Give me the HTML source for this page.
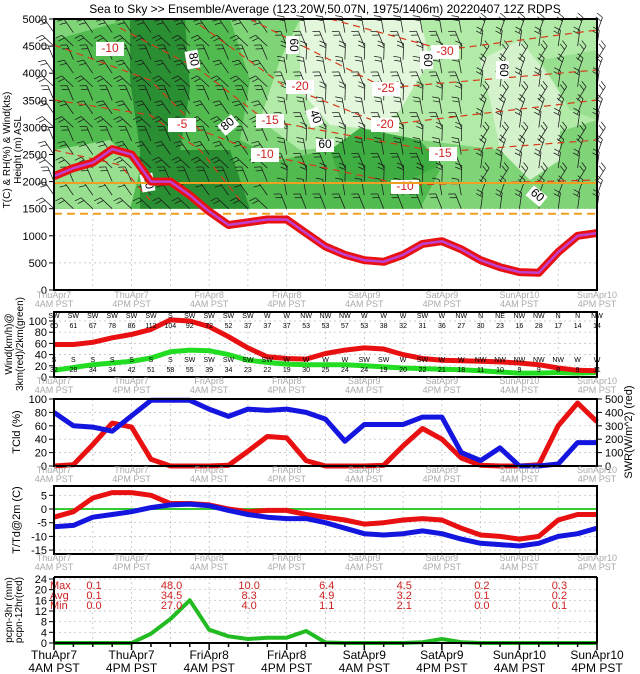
<!DOCTYPE html>
<html><head><meta charset="utf-8">
<style>
html,body{margin:0;padding:0;background:#fff;}
svg{display:block;font-family:"Liberation Sans",sans-serif;}
</style></head>
<body>
<svg id="chart" width="640" height="674" viewBox="0 0 640 674" xmlns="http://www.w3.org/2000/svg">
<text x="325" y="13" font-size="12" text-anchor="middle" fill="#000">Sea to Sky &gt;&gt; Ensemble/Average (123.20W,50.07N, 1975/1406m)  20220407  12Z  RDPS</text>
</svg>
<script>
// ---------- DATA ----------
const dateLabels = ["ThuApr7","ThuApr7","FriApr8","FriApr8","SatApr9","SatApr9","SunApr10","SunApr10"];
const timeLabels = ["4AM PST","4PM PST","4AM PST","4PM PST","4AM PST","4PM PST","4AM PST","4PM PST"];
const freezingLevel = [2100,2250,2350,2600,2500,2000,2000,1750,1450,1200,1250,1300,1300,1050,800,650,550,520,650,850,900,750,550,420,330,320,700,1000,1050];
const wind3kmLine = [58,58,62,70,76,85,102,100,90,72,52,36,33,32,42,48,52,50,40,33,30,29,28,27,25,22,16,12,11];
const wind2kmLine = [12,17,22,25,28,34,45,48,47,40,30,26,23,22,22,22,20,18,16,15,14,13,11,9,7,7,8,7,8];
const wind3kmSpeed = [60,61,67,78,86,112,104,92,72,52,37,37,37,53,53,57,53,38,32,31,36,27,30,23,16,28,17,14,14];
const wind3kmDir = ["SW","SW","SW","SW","SW","SW","S","SW","SW","SW","SW","W","W","NW","NW","NW","W","W","W","SW","W","NW","N","NE","NW","NW","N","N","NW"];
const wind2kmSpeed = [32,28,34,34,42,51,58,55,39,34,23,22,19,30,25,24,24,19,20,22,21,18,11,10,9,9,8,9,11];
const wind2kmDir = ["S","S","S","S","S","S","S","SW","SW","SW","SW","SW","W","W","W","W","SW","SW","W","SW","W","W","NW","NW","NW","NW","NW","W","W"];
const cloudCover = [80,60,58,52,75,98,98,98,85,74,85,83,85,80,70,37,62,62,62,73,73,20,8,27,0,0,3,35,35];
const solarRad = [0,10,160,320,290,50,0,0,0,5,110,220,210,40,0,0,0,5,150,280,200,60,5,0,0,10,300,470,330];
const temp2m = [-3,-1,4,6,6,5,2,2,1.5,0,-1,-0.5,-0.5,-2,-3,-4,-5.5,-5,-4,-3.5,-4,-7,-9.5,-10,-11,-10,-4,-2,-2];
const dew2m = [-6.5,-6,-3,-2,-1,0.5,1.5,1.8,1.2,-0.5,-2,-3,-3.5,-3.5,-5,-7,-9,-9.5,-9,-8,-9,-11,-12.5,-13,-13.5,-12.5,-10,-9,-7];
const precip3h = [0,0,0,0,0,3.5,9,16,5,2.5,1.5,2,2,4.5,0.2,0,0,0,0,0.3,1.5,0.3,0,0,0,0,0,0,0];
const statMax = ["0.1","48.0","10.0","6.4","4.5","0.2","0.3"];
const statAvg = ["0.1","34.5","8.3","4.9","3.2","0.1","0.2"];
const statMin = ["0.0","27.0","4.0","1.1","2.1","0.0","0.1"];

// ---------- HELPERS ----------
const svg = document.getElementById('chart');
const NS = 'http://www.w3.org/2000/svg';
function mk(tag, attrs, parent){const e=document.createElementNS(NS,tag);for(const k in attrs)e.setAttribute(k,attrs[k]);(parent||svg).appendChild(e);return e;}
function txt(x,y,s,size,fill,anchor,parent){const t=mk('text',{x:x,y:y,'font-size':size,fill:fill||'#000','text-anchor':anchor||'middle'},parent);t.textContent=s;return t;}
const X0=54, X1=597, N=29;
function xs(i){return X0+i*(X1-X0)/(N-1);}
function lin(d0,d1,p0,p1){return v=>p0+(v-d0)*(p1-p0)/(d1-d0);}
function pts(arr,ys){return arr.map((v,i)=>xs(i).toFixed(1)+','+ys(v).toFixed(1)).join(' ');}

function panelFrame(top,bottom,ticks,ys,name,gridTicks){
  const g=mk('g',{});
  
  
  for(let k=0;k<=14;k++){const x=X0+k*(X1-X0)/14;mk('line',{x1:x,y1:top,x2:x,y2:bottom,stroke:'#bbb','stroke-width':0.7,'stroke-dasharray':'2,3'},g);}
  (gridTicks||ticks).forEach(v=>{const y=ys(v);mk('line',{x1:X0,y1:y,x2:X1,y2:y,stroke:'#bbb','stroke-width':0.7,'stroke-dasharray':'2,3'},g);});
  const ax=mk('g',{});
  
  
  ticks.forEach(v=>{const y=ys(v);mk('line',{x1:X0-5,y1:y,x2:X0,y2:y,stroke:'#000'},ax);txt(X0-7,y+4,String(v),11,'#000','end',ax);});
}
function frameBox(top,bottom,name){
  const r=mk('rect',{x:X0,y:top,width:X1-X0,height:bottom-top,fill:'none',stroke:'#000','stroke-width':2});
  
  
}
function dateAxis(y,big,name){
  const g=mk('g',{});
  
  
  for(let k=0;k<8;k++){const x=X0+k*(X1-X0)/7;
    if(big){txt(x,y,dateLabels[k],12,'#000','middle',g);txt(x,y+13,timeLabels[k],12,'#000','middle',g);}
    else{txt(x,y,dateLabels[k],9,'#aaa','middle',g);txt(x,y+9,timeLabels[k],9,'#aaa','middle',g);}
  }
}
function ylabel(x,y,s,size,name){const t=txt(x,y,s,size||11,'#000','middle');t.setAttribute('transform','rotate(-90 '+x+' '+y+')');return t;}
function line(arr,ys,color,w,name){const p=mk('polyline',{points:pts(arr,ys),fill:'none',stroke:color,'stroke-width':w,'stroke-linejoin':'round'});return p;}

// ---------- TOP PANEL ----------
const T0=19, TB=290;
const yH=lin(0,5000,TB,T0);
panelFrame(T0,TB,[0,500,1000,1500,2000,2500,3000,3500,4000,4500,5000],yH,'height-panel');
const green=mk('g',{});


const yTopG=yH(5000), yBotG=yH(1500);
mk('rect',{x:X0,y:yTopG,width:X1-X0,height:yBotG-yTopG,fill:'#b2eaa8'},green);
mk('polygon',{points:`54,${yTopG} 300,${yTopG} 280,60 260,120 300,150 420,140 500,150 597,120 597,${yBotG} 54,${yBotG}`,fill:'#7fd478'},green);
mk('polygon',{points:`54,40 90,30 130,${yTopG} 230,${yTopG} 250,80 240,140 280,160 330,150 360,130 400,150 440,170 420,${yBotG} 54,${yBotG}`,fill:'#52bb50'},green);
mk('polygon',{points:`130,${yTopG} 185,${yTopG} 190,90 180,150 230,150 250,${yBotG} 140,${yBotG} 140,150 130,80`,fill:'#2a8f32'},green);
mk('polygon',{points:`300,${yTopG} 420,${yTopG} 430,60 400,110 380,130 330,125 300,90`,fill:'#e2f7dc'},green);
mk('polygon',{points:`480,60 520,40 560,90 560,160 530,180 500,150 490,100`,fill:'#d4f2cc'},green);
mk('polygon',{points:`330,150 360,128 420,140 440,165 400,185 340,180`,fill:'#3fae42'},green);
mk('polygon',{points:`54,150 110,140 140,170 130,${yBotG} 54,${yBotG}`,fill:'#98e090'},green);
mk('polygon',{points:`540,60 597,50 597,120 570,110`,fill:'#98e090'},green);

// wind barbs (decorative texture)
const barbs=mk('g',{stroke:'#1a1a1a','stroke-width':0.75,fill:'none'});


for(let i=0;i<N;i++){for(let h=1500;h<=4750;h+=250){
  const x=xs(i), y=yH(h);
  const ang=(i<12?-125:(i<22?-100:-70))+((h/250)%3-1)*12;
  const a=ang*Math.PI/180, L=16;
  const x2=x+L*Math.cos(a), y2=y+L*Math.sin(a);
  mk('line',{x1:x,y1:y,x2:x2,y2:y2},barbs);
  const pa=a+Math.PI/2*(-1);
  for(let b=0;b<2;b++){const bx=x2-(b*4)*Math.cos(a), by=y2-(b*4)*Math.sin(a);
    mk('line',{x1:bx,y1:by,x2:bx+7*Math.cos(pa+0.35),y2:by+7*Math.sin(pa+0.35)},barbs);}
}}
// isotherms
const iso=mk('g',{fill:'none',stroke:'#d83a1a','stroke-width':1.2,'stroke-dasharray':'7,5'});


[[`54,45 150,80 200,130 265,155 405,185 597,180`],[`120,28 200,70 265,120 440,152 597,140`],[`200,25 283,85 385,125 597,100`],[`250,19 385,88 597,70`],[`330,19 445,50 597,30`],[`54,100 150,115 200,150 240,200`],[`54,150 120,165 150,200`]].forEach(p=>mk('polyline',{points:p[0]},iso));
const isoLab=[[110,52,'-10'],[300,90,'-20'],[270,124,'-15'],[265,158,'-10'],[386,92,'-25'],[385,128,'-20'],[445,55,'-30'],[443,157,'-15'],[405,190,'-10'],[182,128,'-5']];
isoLab.forEach(l=>{const r=mk('rect',{x:l[0]-14,y:l[1]-10,width:28,height:14,fill:'#fff'});const t=txt(l[0],l[1],l[2],12,'#d02020');});
const rhLab=[[190,60,'80',80],[230,127,'80',-40],[290,45,'60',90],[325,148,'60',0],[312,118,'40',70],[424,60,'60',90],[500,70,'60',90],[535,198,'60',40],[145,183,'80',80]];
rhLab.forEach(l=>{const g=mk('g',{transform:`rotate(${l[3]} ${l[0]} ${l[1]})`});mk('rect',{x:l[0]-9,y:l[1]-9,width:18,height:13,fill:'#fff'},g);txt(l[0],l[1],l[2],12,'#000','middle',g);});
// station lines
const sl=mk('line',{x1:X0,y1:yH(1975),x2:X1,y2:yH(1975),stroke:'#f0a020','stroke-width':2});


const sl2=mk('line',{x1:X0,y1:yH(1406),x2:X1,y2:yH(1406),stroke:'#f0a020','stroke-width':2,'stroke-dasharray':'8,5'});


line(freezingLevel,yH,'#e81010',8,'freezing-level-ensemble');
line(freezingLevel,yH,'#c040d0',2.5,'freezing-level-mean');
frameBox(T0,TB,'height-panel');
dateAxis(298,false,'height-panel-x-axis');
ylabel(10,150,'T(C) & RH(%) & Wind(kts)',10,'height-panel-y-title-1');
ylabel(21,150,'Height (m) ASL',10,'height-panel-y-title-2');

// ---------- WIND PANEL ----------
const W0=312, WB=377;
const yW=lin(0,100,WB,321);
panelFrame(W0,WB,[0,20,40,60,80,100],yW,'wind-panel');
line(wind2kmLine,yW,'#22dd22',5,'wind-2km-line');
line(wind3kmLine,yW,'#e81010',5,'wind-3km-line');
const wl=mk('g',{});


for(let i=0;i<N;i++){const x=xs(i);
  txt(x,318,wind3kmDir[i],7,'#000','middle',wl);txt(x,328,String(wind3kmSpeed[i]),7,'#000','middle',wl);
  txt(x,362,wind2kmDir[i],7,'#000','middle',wl);txt(x,372,String(wind2kmSpeed[i]),7,'#000','middle',wl);}
frameBox(W0,WB,'wind-panel');
dateAxis(384,false,'wind-panel-x-axis');
ylabel(12,344,'Wind(km/h)@',10,'wind-y-title-1');
ylabel(23,344,'3km(red)/2km(green)',10,'wind-y-title-2');

// ---------- CLOUD / SWR PANEL ----------
const C0=399, CB=466;
const yC=lin(0,100,CB,C0);
const yS=lin(0,500,CB,C0);
panelFrame(C0,CB,[0,20,40,60,80,100],yC,'cloud-panel');
const ra=mk('g',{});


[0,100,200,300,400,500].forEach(v=>{const y=yS(v);mk('line',{x1:X1,y1:y,x2:X1+5,y2:y,stroke:'#000'},ra);txt(X1+8,y+4,String(v),11,'#000','start',ra);});
line(solarRad,yS,'#e81010',5,'swr-line');
line(cloudCover,yC,'#1515e0',5,'cloud-cover-line');
frameBox(C0,CB,'cloud-panel');
dateAxis(473,false,'cloud-panel-x-axis');
ylabel(20,432,'TCld (%)',11,'cloud-y-title');
ylabel(632,432,'SWR(W/m^2) (red)',11,'swr-y-title');

// ---------- TEMP PANEL ----------
const P0=486, PB=554;
const yT=lin(0,5,509,495.3);
panelFrame(P0,PB,[5,0,-5,-10,-15],yT,'temp-panel');
const zl=mk('line',{x1:X0,y1:yT(0),x2:X1,y2:yT(0),stroke:'#33cc33','stroke-width':2});


line(temp2m,yT,'#e81010',5,'temperature-line');
line(dew2m,yT,'#1515e0',5,'dewpoint-line');
frameBox(P0,PB,'temp-panel');
dateAxis(561,false,'temp-panel-x-axis');
ylabel(20,520,'T/Td@2m (C)',11,'temp-y-title');

// ---------- PRECIP PANEL ----------
const R0=577, RB=643;
const yP=lin(0,24,RB,579);
panelFrame(R0,RB,[0,4,8,12,16,20,24],yP,'precip-panel');
line(precip3h,yP,'#22bb22',4,'precip-3hr-line');
const st=mk('g',{});


txt(50,589,'Max',11,'#d02020','start',st);txt(50,599,'Avg',11,'#d02020','start',st);txt(50,609,'Min',11,'#d02020','start',st);
for(let k=0;k<7;k++){const x=94+k*(X1-X0)/7;txt(x,589,statMax[k],11,'#d02020','middle',st);txt(x,599,statAvg[k],11,'#d02020','middle',st);txt(x,609,statMin[k],11,'#d02020','middle',st);}
const bt=mk('g',{});


for(let k=0;k<=28;k++){const x=xs(k);mk('line',{x1:x,y1:RB,x2:x,y2:RB+(k%4==0?7:4),stroke:'#000','stroke-width':1.5},bt);}
mk('line',{x1:X0,y1:RB,x2:X1,y2:RB,stroke:'#000','stroke-width':2},bt);
mk('line',{x1:X0,y1:R0,x2:X0,y2:RB,stroke:'#000','stroke-width':2},bt);
mk('line',{x1:X0,y1:R0,x2:X1,y2:R0,stroke:'#000','stroke-width':2},bt);
mk('line',{x1:X1,y1:R0,x2:X1,y2:RB,stroke:'#000','stroke-width':2},bt);
dateAxis(659,true,'main-x-axis');
ylabel(12,610,'pcpn-3hr (mm)',10,'precip-y-title-1');
ylabel(22,610,'pcpn-12hr(red)',10,'precip-y-title-2');
</script>
</body></html>
